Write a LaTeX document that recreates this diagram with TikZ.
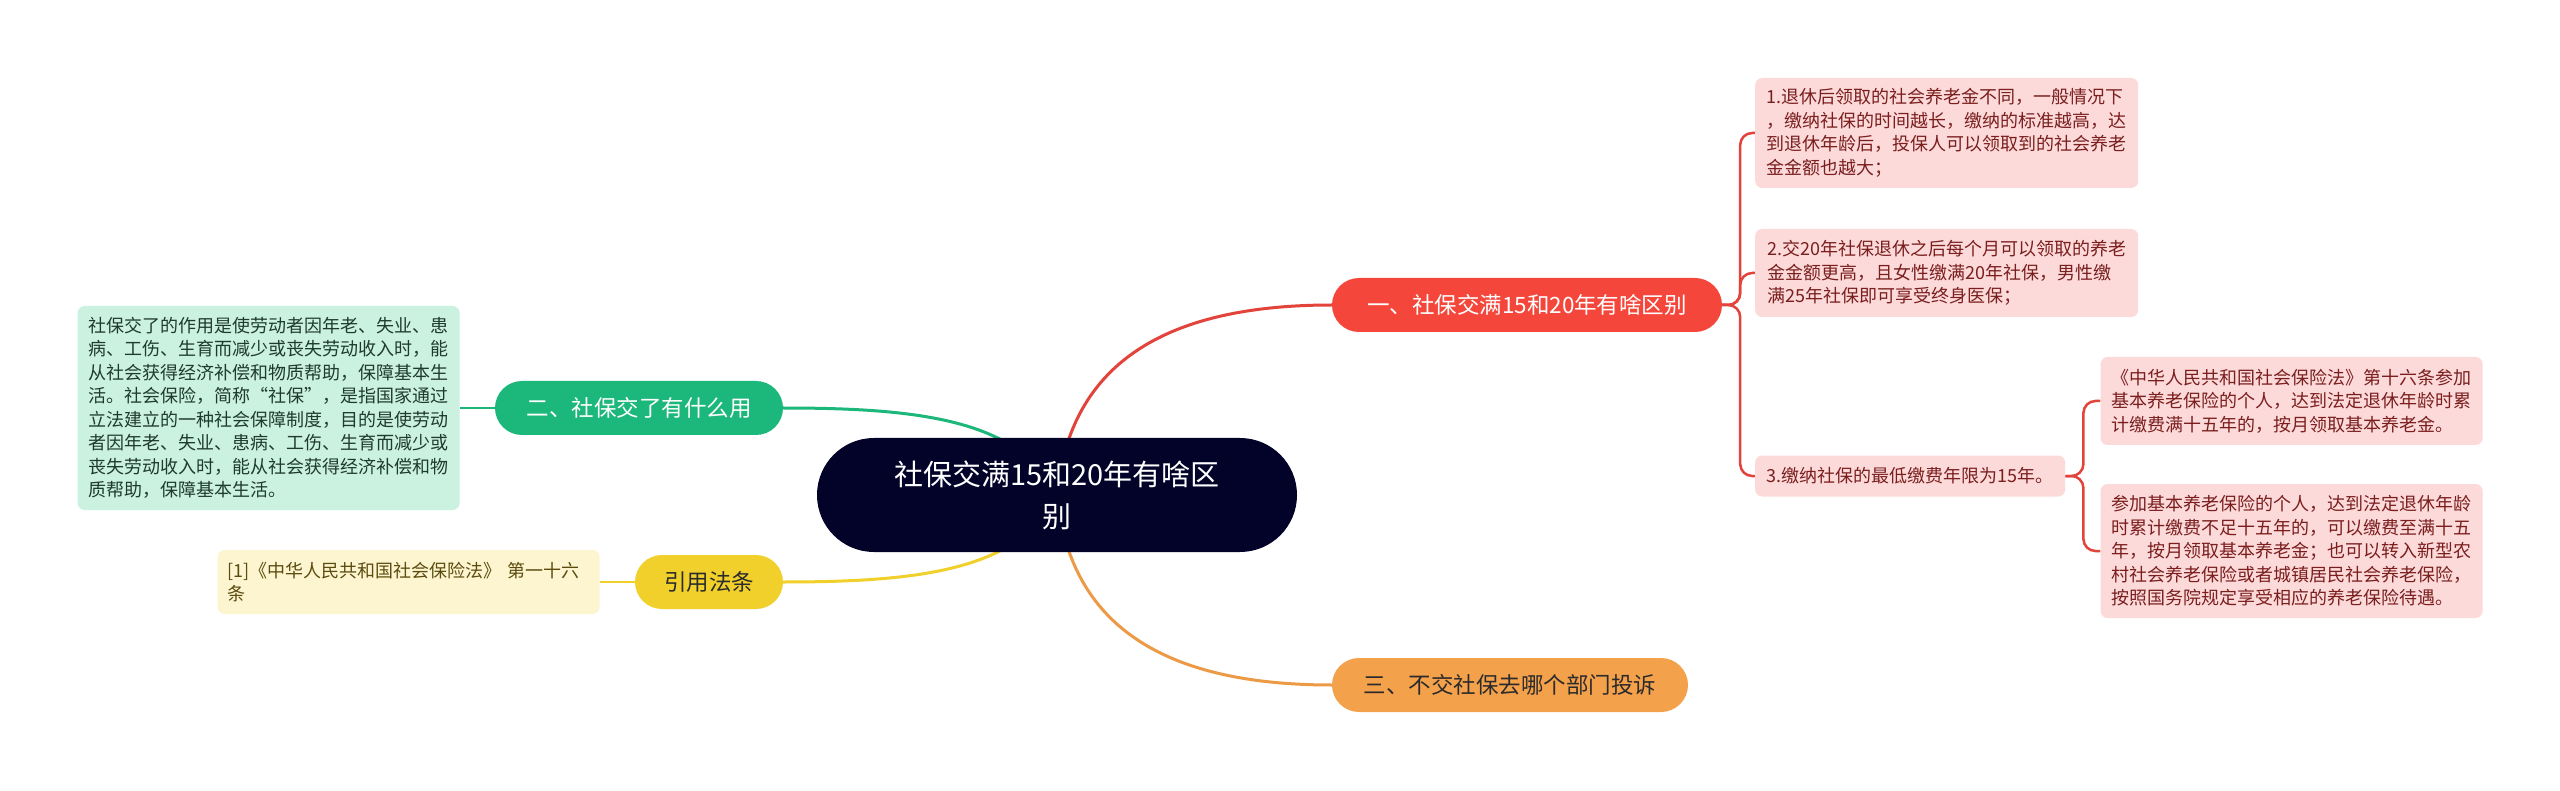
\documentclass[tikz,border=0pt]{standalone}
\usepackage{fontspec}
\setmainfont{Noto Sans CJK SC}
\usetikzlibrary{positioning,backgrounds}

\definecolor{rootbg}{HTML}{03032A}
\definecolor{redmain}{HTML}{F4463B}
\definecolor{redline}{HTML}{E2433A}
\definecolor{redsoft}{HTML}{FDDADA}
\definecolor{redtext}{HTML}{7A1E1E}
\definecolor{greenmain}{HTML}{1CB77A}
\definecolor{greensoft}{HTML}{CBF1E1}
\definecolor{greentext}{HTML}{1F3B2F}
\definecolor{yellowmain}{HTML}{F1D02C}
\definecolor{yellowsoft}{HTML}{FCF5CF}
\definecolor{yellowtext}{HTML}{5B4B0E}
\definecolor{orangemain}{HTML}{F4A14C}
\definecolor{orangeline}{HTML}{EC9A46}
\definecolor{darktext}{HTML}{2B2B2B}

\begin{document}
\begin{tikzpicture}[
  x=1pt, y=-1pt,
  root/.style  ={fill=rootbg, text=white, align=center, minimum width=480pt,
                 minimum height=114pt, rounded corners=57pt,
                 font=\fontsize{29}{42}\selectfont},
  branch/.style={minimum height=54pt, rounded corners=27pt, inner xsep=0pt,
                 font=\fontsize{22.5}{27}\selectfont},
  leaf/.style  ={rounded corners=7pt, align=left, inner sep=0pt,
                 font=\fontsize{18}{23.5}\selectfont},
  redleaf/.style   ={leaf, fill=redsoft, text=redtext},
  greenleaf/.style ={leaf, fill=greensoft, text=greentext},
  yellowleaf/.style={leaf, fill=yellowsoft, text=yellowtext},
  mainline/.style={line width=3pt},
  subline/.style ={line width=2.5pt, rounded corners=12pt}
]
\useasboundingbox (0,0) rectangle (2560,791);

\node[root] (root) at (1057,495) {社保交满15和20年有啥区\\别};

\node[branch, fill=redmain, text=white, minimum width=390pt] (diff) at (1527,305)
      {一、社保交满15和20年有啥区别};
\node[branch, fill=greenmain, text=white, minimum width=288pt] (use) at (639,408)
      {二、社保交了有什么用};
\node[branch, fill=yellowmain, text=darktext, minimum width=148pt] (law) at (709,582)
      {引用法条};
\node[branch, fill=orangemain, text=darktext, minimum width=356pt] (where) at (1510,685)
      {三、不交社保去哪个部门投诉};

\node[redleaf, anchor=west, minimum width=383pt, minimum height=110pt] (diffa) at (1755,133)
      {1.退休后领取的社会养老金不同，一般情况下\\，缴纳社保的时间越长，缴纳的标准越高，达\\到退休年龄后，投保人可以领取到的社会养老\\金金额也越大；};
\node[redleaf, anchor=west, minimum width=383pt, minimum height=88pt] (diffb) at (1755,273)
      {2.交20年社保退休之后每个月可以领取的养老\\金金额更高，且女性缴满20年社保，男性缴\\满25年社保即可享受终身医保；};
\node[redleaf, anchor=west, minimum width=310pt, minimum height=41pt] (diffc) at (1755,476)
      {3.缴纳社保的最低缴费年限为15年。};
\node[redleaf, right=35pt of diffc, yshift=75pt, minimum width=382pt, minimum height=88pt] (lawa)
      {《中华人民共和国社会保险法》第十六条参加\\基本养老保险的个人，达到法定退休年龄时累\\计缴费满十五年的，按月领取基本养老金。};
\node[redleaf, right=35pt of diffc, yshift=-75pt, minimum width=382pt, minimum height=134pt] (lawb)
      {参加基本养老保险的个人，达到法定退休年龄\\时累计缴费不足十五年的，可以缴费至满十五\\年，按月领取基本养老金；也可以转入新型农\\村社会养老保险或者城镇居民社会养老保险，\\按照国务院规定享受相应的养老保险待遇。};

\node[greenleaf, left=35pt of use, minimum width=382pt, minimum height=204pt] (usetext)
      {社保交了的作用是使劳动者因年老、失业、患\\病、工伤、生育而减少或丧失劳动收入时，能\\从社会获得经济补偿和物质帮助，保障基本生\\活。社会保险，简称“社保”，是指国家通过\\立法建立的一种社会保障制度，目的是使劳动\\者因年老、失业、患病、工伤、生育而减少或\\丧失劳动收入时，能从社会获得经济补偿和物\\质帮助，保障基本生活。};
\node[yellowleaf, left=35pt of law, minimum height=64pt, text width=362pt,
      inner xsep=10pt] (lawtext)
      {[1]《中华人民共和国社会保险法》 第一十六\\条};

\begin{scope}[on background layer]
\fill[white] (0,0) rectangle (2560,791);
\draw[mainline, redline] (root.center) .. controls (1070,360) and (1170,305) .. (diff.west);
\draw[mainline, orangeline] (root.center) .. controls (1070,630) and (1170,685) .. (where.west);
\draw[mainline, greenmain] (use.east) .. controls (920,408) and (1020,420) .. (root.center);
\draw[mainline, yellowmain] (law.east) .. controls (920,582) and (1020,570) .. (root.center);
\draw[subline, redline] (diff.east) -- ++(18,0) |- (diffa.west);
\draw[subline, redline] (diff.east) -- ++(18,0) |- (diffb.west);
\draw[subline, redline] (diff.east) -- ++(18,0) |- (diffc.west);
\draw[subline, redline] (diffc.east) -- ++(18,0) |- (lawa.west);
\draw[subline, redline] (diffc.east) -- ++(18,0) |- (lawb.west);
\draw[subline, greenmain] (use.west) -- (usetext.east);
\draw[subline, yellowmain] (law.west) -- (lawtext.east);
\end{scope}
\end{tikzpicture}
\end{document}
